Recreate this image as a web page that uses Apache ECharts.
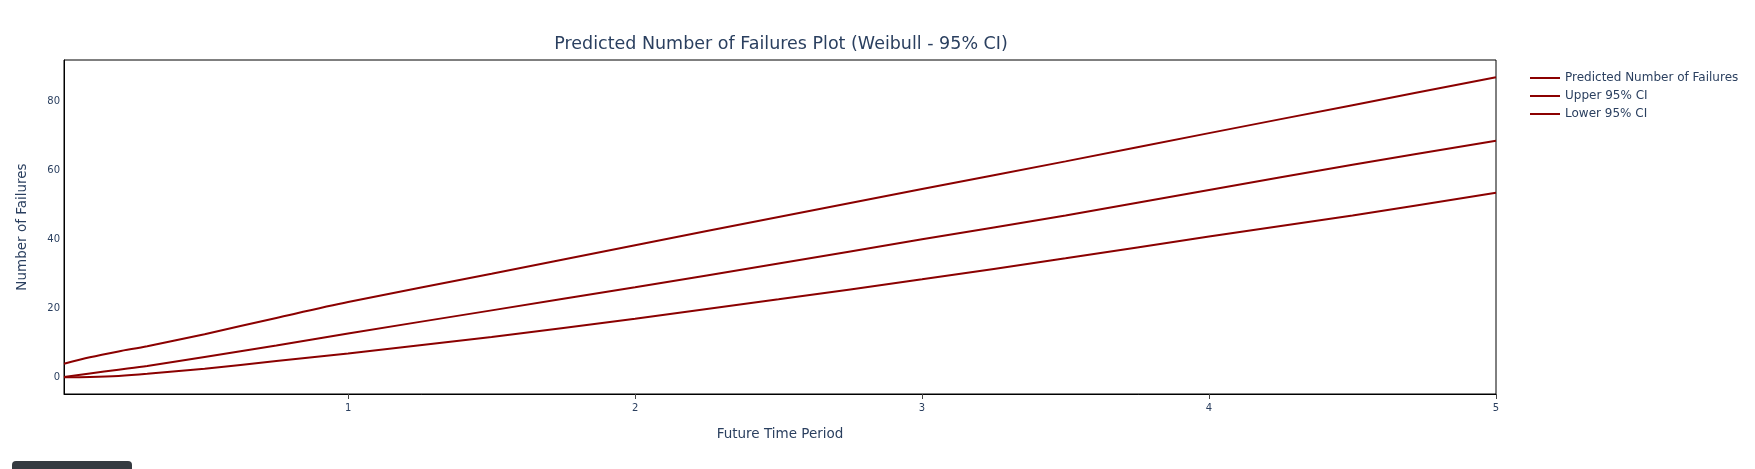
<!DOCTYPE html>
<html>
<head>
<meta charset="utf-8">
<title>Predicted Number of Failures</title>
<script src="https://cdn.jsdelivr.net/npm/echarts@6/dist/echarts.min.js"></script>
<style>
	html, body { margin: 0; padding: 0; background: #fff; }
	#chart { width: 1755px; height: 469px; }
</style>
</head>
<body>
<div id="chart"></div>
<script>
// future time periods (x)
const timePeriods = [0.01, 0.1, 0.2, 0.3, 0.5, 0.75, 1.0, 1.5, 2.0, 2.5, 3.0, 3.5, 4.0, 4.5, 5.0];
// predicted failures and 95% bounds
const predicted = [0.1, 1.1, 2.2, 3.3, 5.9, 9.2, 12.7, 19.4, 26.1, 33.0, 40.0, 46.9, 54.3, 61.6, 68.6];
const upper95 = [3.9, 5.8, 7.5, 9.0, 12.5, 17.2, 21.8, 30.0, 38.3, 46.5, 54.6, 62.6, 70.8, 78.9, 87.0];
const lower95 = [0.0, 0.1, 0.4, 1.0, 2.5, 4.7, 6.9, 11.7, 17.0, 22.6, 28.4, 34.5, 40.8, 46.9, 53.5];
const xTicks = [1, 2, 3, 4, 5];
const yTicks = [0, 20, 40, 60, 80];

const lineColor = '#8b0000';
const textColor = '#2a3f5f';
const font = 'Verdana, "DejaVu Sans", sans-serif';

const toPairs = (ys) => timePeriods.map((x, i) => [x, ys[i]]);

const chart = echarts.init(document.getElementById('chart'));

const makeLine = (name, ys) => ({
	name: name,
	type: 'line',
	symbol: 'none',
	showSymbol: false,
	smooth: 0.3,
	lineStyle: { color: lineColor, width: 2 },
	itemStyle: { color: lineColor },
	data: toPairs(ys),
});

const option = {
	animation: false,
	backgroundColor: '#fff',
	textStyle: { fontFamily: font },
	title: {
		text: 'Predicted Number of Failures Plot (Weibull - 95% CI)',
		left: 776,
		top: 30,
		textAlign: 'center',
		textStyle: { fontFamily: font, fontSize: 17.5, fontWeight: 'normal', color: textColor },
	},
	legend: {
		orient: 'vertical',
		left: 1525,
		top: 67,
		icon: 'rect',
		itemWidth: 30,
		itemHeight: 2,
		itemGap: 6,
		textStyle: { fontFamily: font, fontSize: 12, color: textColor },
		data: ['Predicted Number of Failures', 'Upper 95% CI', 'Lower 95% CI'],
	},
	grid: {
		left: 64,
		right: 259,
		top: 60,
		bottom: 75,
		show: true,
		backgroundColor: '#fff',
		borderColor: '#000',
		borderWidth: 1,
	},
	xAxis: {
		type: 'value',
		min: 0.01,
		max: 5,
		name: 'Future Time Period',
		nameLocation: 'middle',
		nameGap: 33,
		nameTextStyle: { fontFamily: font, fontSize: 13.5, color: textColor },
		splitLine: { show: false },
		axisLine: { show: true, onZero: false, lineStyle: { color: '#000', width: 1 } },
		axisTick: { show: true, customValues: xTicks, length: 5, lineStyle: { color: '#444' } },
		axisLabel: { customValues: xTicks, fontSize: 10, margin: 9, color: textColor, fontFamily: font },
	},
	yAxis: {
		type: 'value',
		min: -4.85,
		max: 92,
		name: 'Number of Failures',
		nameLocation: 'middle',
		nameGap: 35,
		nameTextStyle: { fontFamily: font, fontSize: 13.5, color: textColor },
		splitLine: { show: false },
		axisLine: { show: true, onZero: false, lineStyle: { color: '#000', width: 1 } },
		axisTick: { show: false },
		axisLabel: { customValues: yTicks, fontSize: 10, margin: 4, color: textColor, fontFamily: font },
	},
	graphic: [
		{
			type: 'rect',
			left: 12,
			top: 461,
			shape: { width: 120, height: 12, r: [4, 4, 0, 0] },
			style: { fill: '#343a40' },
		},
	],
	series: [
		makeLine('Predicted Number of Failures', predicted),
		makeLine('Upper 95% CI', upper95),
		makeLine('Lower 95% CI', lower95),
	],
};

chart.setOption(option);
window.addEventListener('resize', function () {
	chart && chart.resize();
});
</script>
</body>
</html>
